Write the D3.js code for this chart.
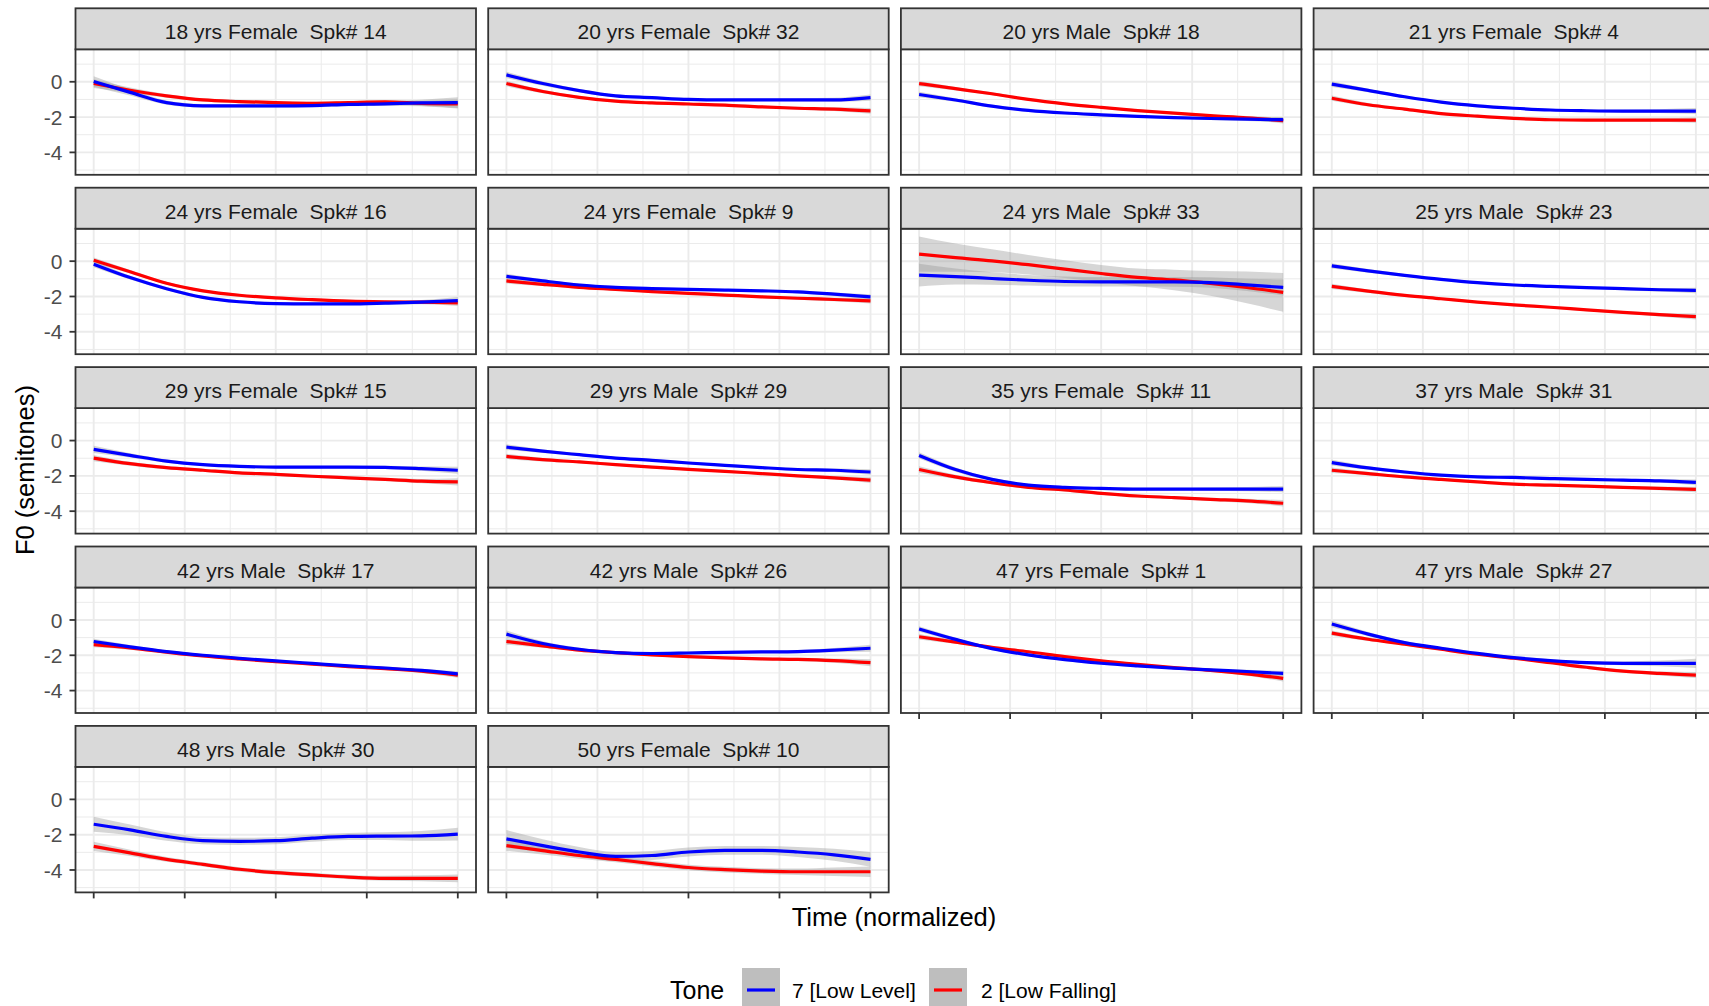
<!DOCTYPE html>
<html><head><meta charset="utf-8">
<script src="https://cdn.jsdelivr.net/npm/d3@7"></script>
<style>
body{margin:0;background:#fff;overflow:hidden}
svg{display:block}
text{font-family:"Liberation Sans",Arial,sans-serif;white-space:pre}
</style>
</head><body>
<svg id="chart" width="1709" height="1006"></svg>
<script>
// ---------- DATA ----------
const panelLabels = [
  "18 yrs Female  Spk# 14","20 yrs Female  Spk# 32","20 yrs Male  Spk# 18","21 yrs Female  Spk# 4",
  "24 yrs Female  Spk# 16","24 yrs Female  Spk# 9","24 yrs Male  Spk# 33","25 yrs Male  Spk# 23",
  "29 yrs Female  Spk# 15","29 yrs Male  Spk# 29","35 yrs Female  Spk# 11","37 yrs Male  Spk# 31",
  "42 yrs Male  Spk# 17","42 yrs Male  Spk# 26","47 yrs Female  Spk# 1","47 yrs Male  Spk# 27",
  "48 yrs Male  Spk# 30","50 yrs Female  Spk# 10"
];
const timePoints = [0,0.1,0.2,0.3,0.4,0.5,0.6,0.7,0.8,0.9,1];

// Tone 7 [Low Level] (blue) fitted F0, one row per panel
const lowLevel = [
  [0.02,-0.6,-1.18,-1.36,-1.37,-1.37,-1.35,-1.28,-1.25,-1.2,-1.18],
  [0.39,-0.1,-0.5,-0.8,-0.9,-1.0,-1.03,-1.03,-1.03,-1.03,-0.9],
  [-0.72,-1.03,-1.38,-1.62,-1.77,-1.87,-1.96,-2.03,-2.08,-2.12,-2.15],
  [-0.13,-0.49,-0.85,-1.15,-1.36,-1.5,-1.6,-1.64,-1.66,-1.66,-1.66],
  [-0.17,-0.93,-1.56,-2.05,-2.3,-2.4,-2.42,-2.42,-2.38,-2.32,-2.23],
  [-0.86,-1.12,-1.35,-1.48,-1.55,-1.6,-1.64,-1.68,-1.74,-1.87,-2.02],
  [-0.79,-0.87,-0.98,-1.08,-1.15,-1.17,-1.17,-1.17,-1.21,-1.34,-1.49],
  [-0.27,-0.55,-0.8,-1.03,-1.22,-1.35,-1.43,-1.5,-1.56,-1.62,-1.66],
  [-0.5,-0.84,-1.16,-1.36,-1.46,-1.5,-1.5,-1.5,-1.52,-1.59,-1.68],
  [-0.37,-0.6,-0.8,-0.99,-1.12,-1.27,-1.4,-1.53,-1.64,-1.68,-1.78],
  [-0.84,-1.64,-2.2,-2.52,-2.65,-2.71,-2.75,-2.75,-2.75,-2.75,-2.75],
  [-1.25,-1.55,-1.78,-1.96,-2.06,-2.09,-2.15,-2.2,-2.24,-2.28,-2.37],
  [-1.22,-1.52,-1.79,-2.0,-2.17,-2.32,-2.46,-2.6,-2.72,-2.86,-3.05],
  [-0.8,-1.33,-1.66,-1.85,-1.9,-1.87,-1.83,-1.81,-1.79,-1.71,-1.6],
  [-0.51,-1.1,-1.62,-1.98,-2.25,-2.45,-2.6,-2.73,-2.83,-2.92,-3.03],
  [-0.23,-0.8,-1.28,-1.6,-1.89,-2.13,-2.3,-2.42,-2.46,-2.46,-2.46],
  [-1.41,-1.73,-2.1,-2.34,-2.38,-2.34,-2.2,-2.1,-2.08,-2.07,-1.97],
  [-2.24,-2.62,-2.98,-3.23,-3.18,-2.98,-2.89,-2.89,-2.98,-3.14,-3.4]
];
// Tone 2 [Low Falling] (red) fitted F0
const lowFalling = [
  [-0.1,-0.48,-0.8,-1.03,-1.12,-1.18,-1.22,-1.18,-1.14,-1.22,-1.26],
  [-0.1,-0.55,-0.88,-1.1,-1.2,-1.26,-1.32,-1.42,-1.5,-1.55,-1.65],
  [-0.1,-0.39,-0.68,-1.0,-1.25,-1.45,-1.63,-1.78,-1.92,-2.04,-2.2],
  [-0.93,-1.3,-1.55,-1.8,-1.95,-2.07,-2.15,-2.17,-2.17,-2.17,-2.17],
  [0.05,-0.6,-1.25,-1.68,-1.93,-2.08,-2.18,-2.26,-2.3,-2.32,-2.36],
  [-1.12,-1.31,-1.48,-1.6,-1.72,-1.82,-1.92,-2.02,-2.1,-2.17,-2.25],
  [0.4,0.2,0.02,-0.2,-0.45,-0.7,-0.92,-1.06,-1.26,-1.49,-1.77],
  [-1.43,-1.7,-1.94,-2.13,-2.32,-2.48,-2.61,-2.76,-2.9,-3.03,-3.14],
  [-0.99,-1.31,-1.53,-1.68,-1.83,-1.91,-2.02,-2.11,-2.2,-2.3,-2.34],
  [-0.9,-1.08,-1.21,-1.36,-1.5,-1.63,-1.74,-1.87,-2.0,-2.11,-2.24],
  [-1.64,-2.06,-2.39,-2.65,-2.8,-2.99,-3.14,-3.23,-3.33,-3.42,-3.55],
  [-1.68,-1.87,-2.06,-2.2,-2.34,-2.47,-2.52,-2.58,-2.65,-2.71,-2.77],
  [-1.4,-1.58,-1.82,-2.04,-2.21,-2.36,-2.5,-2.64,-2.76,-2.9,-3.12],
  [-1.22,-1.47,-1.71,-1.85,-1.98,-2.08,-2.15,-2.2,-2.23,-2.3,-2.42],
  [-0.95,-1.25,-1.55,-1.8,-2.08,-2.32,-2.52,-2.7,-2.85,-3.05,-3.31],
  [-0.74,-1.09,-1.37,-1.66,-1.94,-2.17,-2.42,-2.68,-2.9,-3.03,-3.12],
  [-2.66,-3.03,-3.4,-3.68,-3.96,-4.15,-4.28,-4.4,-4.47,-4.47,-4.47],
  [-2.62,-2.9,-3.18,-3.4,-3.64,-3.86,-3.98,-4.06,-4.1,-4.1,-4.1]
];
// Half-widths of the grey confidence bands
const lowLevelSE = [
  [0.3,0.18,0.12,0.1,0.1,0.1,0.1,0.1,0.12,0.18,0.3],
  [0.18,0.12,0.09,0.08,0.08,0.08,0.08,0.08,0.09,0.12,0.18],
  [0.15,0.1,0.08,0.07,0.07,0.07,0.07,0.07,0.08,0.1,0.15],
  [0.16,0.1,0.08,0.07,0.07,0.07,0.07,0.07,0.08,0.11,0.17],
  [0.18,0.11,0.09,0.08,0.08,0.08,0.08,0.08,0.09,0.12,0.2],
  [0.15,0.1,0.08,0.07,0.07,0.07,0.07,0.07,0.08,0.1,0.15],
  [0.65,0.45,0.35,0.3,0.28,0.27,0.27,0.28,0.3,0.35,0.45],
  [0.15,0.1,0.08,0.07,0.07,0.07,0.07,0.07,0.08,0.1,0.16],
  [0.2,0.12,0.09,0.08,0.08,0.08,0.08,0.08,0.09,0.12,0.2],
  [0.16,0.1,0.08,0.07,0.07,0.07,0.07,0.07,0.08,0.1,0.16],
  [0.18,0.12,0.09,0.08,0.08,0.08,0.08,0.08,0.09,0.12,0.18],
  [0.16,0.1,0.08,0.07,0.07,0.07,0.07,0.07,0.08,0.1,0.16],
  [0.15,0.1,0.08,0.07,0.07,0.07,0.07,0.07,0.08,0.1,0.15],
  [0.2,0.12,0.09,0.08,0.08,0.08,0.08,0.08,0.09,0.12,0.2],
  [0.15,0.1,0.08,0.07,0.07,0.07,0.07,0.07,0.08,0.1,0.15],
  [0.18,0.12,0.09,0.08,0.08,0.08,0.08,0.09,0.11,0.16,0.26],
  [0.42,0.3,0.24,0.2,0.2,0.2,0.2,0.2,0.22,0.28,0.36],
  [0.5,0.36,0.28,0.25,0.25,0.25,0.25,0.25,0.28,0.34,0.42]
];
const lowFallingSE = [
  [0.25,0.15,0.1,0.09,0.09,0.09,0.09,0.09,0.1,0.15,0.25],
  [0.16,0.1,0.08,0.07,0.07,0.07,0.07,0.07,0.08,0.1,0.16],
  [0.15,0.1,0.08,0.07,0.07,0.07,0.07,0.07,0.08,0.1,0.16],
  [0.15,0.1,0.08,0.07,0.07,0.07,0.07,0.07,0.08,0.1,0.15],
  [0.16,0.1,0.08,0.07,0.07,0.07,0.07,0.07,0.08,0.11,0.18],
  [0.15,0.1,0.08,0.07,0.07,0.07,0.07,0.07,0.08,0.1,0.15],
  [1.0,0.8,0.65,0.55,0.5,0.48,0.5,0.58,0.7,0.9,1.1],
  [0.15,0.1,0.08,0.07,0.07,0.07,0.07,0.07,0.08,0.1,0.17],
  [0.18,0.11,0.09,0.08,0.08,0.08,0.08,0.08,0.09,0.12,0.2],
  [0.15,0.1,0.08,0.07,0.07,0.07,0.07,0.07,0.08,0.1,0.16],
  [0.18,0.12,0.09,0.08,0.08,0.08,0.08,0.08,0.09,0.12,0.18],
  [0.16,0.1,0.08,0.07,0.07,0.07,0.07,0.07,0.08,0.1,0.16],
  [0.15,0.1,0.08,0.07,0.07,0.07,0.07,0.07,0.08,0.1,0.16],
  [0.18,0.11,0.09,0.08,0.08,0.08,0.08,0.08,0.09,0.12,0.2],
  [0.15,0.1,0.08,0.07,0.07,0.07,0.07,0.07,0.08,0.11,0.18],
  [0.15,0.1,0.08,0.07,0.07,0.07,0.07,0.07,0.08,0.11,0.17],
  [0.26,0.18,0.14,0.12,0.12,0.12,0.12,0.12,0.14,0.17,0.22],
  [0.3,0.22,0.18,0.16,0.16,0.16,0.16,0.16,0.18,0.24,0.3]
];
const yMajorTicks = [-4,-2,0];
const yMinorTicks = [-5,-3,-1,1];
const xMajorTicks = [0,0.25,0.5,0.75,1];
const xMinorTicks = [0.125,0.375,0.625,0.875];
const toneLabels = ["7 [Low Level]","2 [Low Falling]"];
const toneColors = ["#0000FF","#FF0000"];

// ---------- LAYOUT ----------
const svg = d3.select("#chart");
const nCol = 4;
const left0 = 75.5, colPitch = 412.7, pw = 400.5;
const top0 = 8.3, rowPitch = 179.4, sh = 41, ph = 125.5;

const x = d3.scaleLinear().domain([-0.05, 1.05]).range([0, pw]);
const y = d3.scaleLinear().domain([-5.27, 1.84]).range([ph, 0]);

const line = d3.line().x(d => x(d.t)).y(d => y(d.v)).curve(d3.curveMonotoneX);
const area = d3.area().x(d => x(d.t)).y0(d => y(d.v - d.s)).y1(d => y(d.v + d.s)).curve(d3.curveMonotoneX);

panelLabels.forEach((lab, i) => {
  const r = Math.floor(i / nCol), c = i % nCol;
  const gx = left0 + c * colPitch;
  const gs = top0 + r * rowPitch;
  const g = svg.append("g").attr("transform", `translate(${gx},${gs + sh})`);

  g.append("rect").attr("width", pw).attr("height", ph).attr("fill", "#fff");

  g.selectAll(".ymin").data(yMinorTicks).enter().append("line")
    .attr("x1", 0).attr("x2", pw).attr("y1", d => y(d)).attr("y2", d => y(d))
    .attr("stroke", "#EBEBEB").attr("stroke-width", 1);
  g.selectAll(".xmin").data(xMinorTicks).enter().append("line")
    .attr("y1", 0).attr("y2", ph).attr("x1", d => x(d)).attr("x2", d => x(d))
    .attr("stroke", "#EBEBEB").attr("stroke-width", 1);
  g.selectAll(".ymaj").data(yMajorTicks).enter().append("line")
    .attr("x1", 0).attr("x2", pw).attr("y1", d => y(d)).attr("y2", d => y(d))
    .attr("stroke", "#EBEBEB").attr("stroke-width", 1.9);
  g.selectAll(".xmaj").data(xMajorTicks).enter().append("line")
    .attr("y1", 0).attr("y2", ph).attr("x1", d => x(d)).attr("x2", d => x(d))
    .attr("stroke", "#EBEBEB").attr("stroke-width", 1.9);

  const series = [
    {vals: lowFalling[i], se: lowFallingSE[i], col: toneColors[1]},
    {vals: lowLevel[i], se: lowLevelSE[i], col: toneColors[0]}
  ].map(s => ({col: s.col, pts: timePoints.map((t, k) => ({t, v: s.vals[k], s: s.se[k]}))}));

  series.forEach(s => {
    g.append("path").datum(s.pts).attr("d", area)
      .attr("fill", "#999999").attr("fill-opacity", 0.4);
  });
  series.forEach(s => {
    g.append("path").datum(s.pts).attr("d", line)
      .attr("fill", "none").attr("stroke", s.col).attr("stroke-width", 3.2);
  });

  g.append("rect").attr("width", pw).attr("height", ph)
    .attr("fill", "none").attr("stroke", "#333333").attr("stroke-width", 1.8);

  const st = svg.append("g").attr("transform", `translate(${gx},${gs})`);
  st.append("rect").attr("width", pw).attr("height", sh)
    .attr("fill", "#D9D9D9").attr("stroke", "#333333").attr("stroke-width", 1.8);
  st.append("text").attr("x", pw / 2).attr("y", 31).attr("text-anchor", "middle")
    .attr("xml:space", "preserve")
    .attr("font-size", "21px").attr("fill", "#1A1A1A").text(lab);

  if (c === 0) {
    yMajorTicks.forEach(v => {
      g.append("line").attr("x1", -6).attr("x2", 0).attr("y1", y(v)).attr("y2", y(v))
        .attr("stroke", "#333333").attr("stroke-width", 1.8);
      g.append("text").attr("x", -13).attr("y", y(v)).attr("dy", "0.36em")
        .attr("text-anchor", "end").attr("font-size", "21px").attr("fill", "#4D4D4D")
        .text(v === 0 ? "0" : "-" + Math.abs(v));
    });
  }
  if (i + nCol >= panelLabels.length) {
    xMajorTicks.forEach(v => {
      g.append("line").attr("x1", x(v)).attr("x2", x(v)).attr("y1", ph).attr("y2", ph + 6)
        .attr("stroke", "#333333").attr("stroke-width", 1.8);
    });
  }
});

svg.append("text").attr("x", 894).attr("y", 926).attr("text-anchor", "middle")
  .attr("font-size", "25.5px").attr("fill", "#000").text("Time (normalized)");
svg.append("text").attr("transform", "translate(34,470) rotate(-90)").attr("text-anchor", "middle")
  .attr("font-size", "25.5px").attr("fill", "#000").text("F0 (semitones)");

const lg = svg.append("g");
lg.append("text").attr("x", 670).attr("y", 999).attr("font-size", "25px").attr("fill", "#000").text("Tone");
const keyX = [742, 929], labX = [792, 981];
toneLabels.forEach((t, k) => {
  lg.append("rect").attr("x", keyX[k]).attr("y", 968).attr("width", 38).attr("height", 44).attr("fill", "#BEBEBE");
  lg.append("line").attr("x1", keyX[k] + 5).attr("x2", keyX[k] + 33).attr("y1", 990).attr("y2", 990)
    .attr("stroke", toneColors[k]).attr("stroke-width", 3.2);
  lg.append("text").attr("x", labX[k]).attr("y", 998).attr("font-size", "21px").attr("fill", "#000").text(t);
});
</script>
</body></html>
